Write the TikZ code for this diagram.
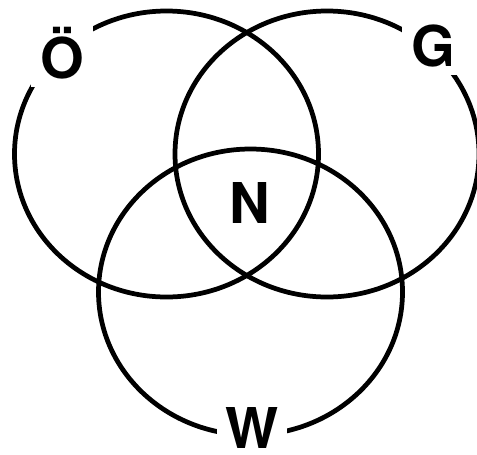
\documentclass[tikz,border=0pt]{standalone}
\usepackage{fontspec}
\setmainfont{TeX Gyre Heros}
\usetikzlibrary{shapes.geometric}

\begin{document}
\begin{tikzpicture}[
  set/.style={draw,ellipse,line width=2.7pt,minimum width=6.08cm,minimum height=5.72cm,inner sep=0pt},
  setlabel/.style={fill=white,inner sep=5pt,anchor=base,font=\fontsize{32}{32}\selectfont\bfseries}
]

\useasboundingbox (0,0) rectangle (9.54,9.08);

% Cercle gauche
\node[set] (oe) at (3.33,6.00) {};

% Cercle droit
\node[set] (ge) at (6.54,6.00) {};

% Cercle du bas
\node[set] (we) at (5.01,3.24) {};

% Etiquettes
\node[setlabel] (loe) at (1.24,7.52) {Ö};
\node[setlabel] (lge) at (8.66,7.76) {G};
\node[setlabel,fill=none] (lne) at (5.00,4.62) {N};
\node[setlabel,inner ysep=2pt] (lwe) at (5.04,0.12) {W};

\end{tikzpicture}
\end{document}
